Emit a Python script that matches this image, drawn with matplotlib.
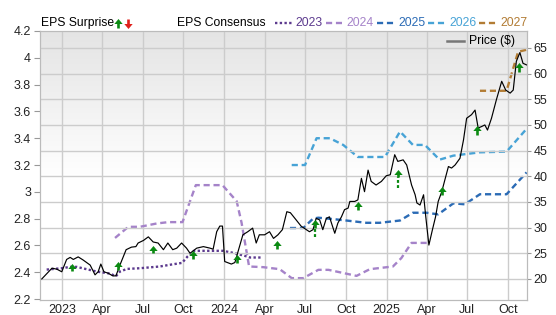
import numpy as np
import pandas as pd
import matplotlib
matplotlib.use('Agg')
import matplotlib.pyplot as plt
from matplotlib.lines import Line2D
from matplotlib.colors import LinearSegmentedColormap
from matplotlib.ticker import FuncFormatter

plt.rcParams['font.family'] = ['Liberation Sans', 'DejaVu Sans']

# ---- data ----
price_dates = ['2022-11-16', '2022-12-09', '2022-12-20', '2022-12-31', '2023-01-11', '2023-01-19',
               '2023-01-26', '2023-02-06', '2023-02-17', '2023-03-05', '2023-03-16', '2023-03-23',
               '2023-03-29', '2023-04-05', '2023-04-15', '2023-04-25', '2023-05-02', '2023-05-11',
               '2023-05-25', '2023-06-06', '2023-06-16', '2023-06-21', '2023-07-03', '2023-07-14',
               '2023-07-25', '2023-08-05', '2023-08-17', '2023-08-27', '2023-09-07', '2023-09-16',
               '2023-09-27', '2023-10-08', '2023-10-16', '2023-10-31', '2023-11-15', '2023-11-30',
               '2023-12-07', '2023-12-15', '2023-12-22', '2023-12-28', '2024-01-02', '2024-01-17',
               '2024-01-25', '2024-02-01', '2024-02-12', '2024-02-23', '2024-03-05', '2024-03-13',
               '2024-03-20', '2024-04-01', '2024-04-12', '2024-04-21', '2024-05-01', '2024-05-11',
               '2024-05-21', '2024-05-29', '2024-06-11', '2024-06-22', '2024-07-04', '2024-07-11',
               '2024-07-19', '2024-07-26', '2024-08-03', '2024-08-10', '2024-08-18', '2024-08-25',
               '2024-09-06', '2024-09-13', '2024-09-21', '2024-09-28', '2024-10-06', '2024-10-10',
               '2024-10-21', '2024-10-28', '2024-11-05', '2024-11-12', '2024-11-20', '2024-11-27',
               '2024-12-08', '2024-12-20', '2024-12-31', '2025-01-09', '2025-01-19', '2025-01-26',
               '2025-02-07', '2025-02-15', '2025-02-26', '2025-03-06', '2025-03-10', '2025-03-17',
               '2025-03-25', '2025-03-30', '2025-04-06', '2025-04-14', '2025-04-21', '2025-04-27',
               '2025-05-05', '2025-05-12', '2025-05-20', '2025-05-27', '2025-06-04', '2025-06-15',
               '2025-06-23', '2025-06-30', '2025-07-11', '2025-07-19', '2025-07-26', '2025-08-03',
               '2025-08-10', '2025-08-16', '2025-08-25', '2025-09-05', '2025-09-17', '2025-09-26',
               '2025-10-06', '2025-10-13', '2025-10-20', '2025-10-28', '2025-11-04', '2025-11-12']
price_vals = [20.0, 22.1, 21.9, 21.4, 23.8, 24.2, 23.8, 24.3, 23.7, 22.7, 20.8, 21.4,
              22.9, 21.4, 21.1, 20.6, 20.6, 22.7, 25.7, 26.2, 26.3, 27.0, 27.5, 28.2,
              27.2, 27.0, 25.7, 27.0, 25.7, 26.0, 27.0, 26.0, 25.0, 26.0, 26.3, 26.0,
              25.8, 29.2, 30.3, 30.3, 23.4, 22.9, 23.2, 25.3, 28.6, 29.2, 29.9, 27.0,
              28.6, 28.6, 29.2, 27.9, 28.6, 29.6, 33.1, 32.9, 31.5, 30.3, 29.6, 29.2,
              29.6, 31.8, 31.5, 29.6, 31.8, 32.1, 28.9, 30.9, 32.1, 33.5, 33.8, 35.1,
              35.1, 35.4, 39.6, 37.0, 41.2, 39.0, 38.3, 39.0, 40.1, 40.3, 44.2, 42.9,
              43.2, 42.2, 38.3, 36.4, 34.8, 34.4, 36.4, 32.1, 26.6, 29.6, 32.1, 35.1,
              37.0, 39.3, 41.9, 41.6, 42.2, 43.5, 47.1, 51.3, 52.0, 52.9, 49.4, 49.7,
              50.0, 49.0, 51.3, 54.9, 58.5, 56.8, 56.2, 56.8, 62.4, 64.1, 62.0, 61.7]

eps_2023_dates = ['2022-11-27', '2022-12-31', '2023-01-19', '2023-02-03', '2023-03-20', '2023-04-19',
                  '2023-05-02', '2023-05-11', '2023-05-27', '2023-06-25', '2023-08-09', '2023-09-01',
                  '2023-09-28', '2023-10-11', '2023-10-25', '2023-12-29', '2024-01-21', '2024-02-21',
                  '2024-02-28', '2024-03-28']
eps_2023 = [2.42, 2.43, 2.44, 2.44, 2.405, 2.39, 2.37, 2.405, 2.425, 2.43, 2.443, 2.456,
            2.47, 2.52, 2.56, 2.56, 2.545, 2.518, 2.51, 2.51]

eps_2024_dates = ['2023-04-30', '2023-05-30', '2023-06-25', '2023-08-02', '2023-08-28', '2023-09-29',
                  '2023-10-29', '2023-12-28', '2024-01-29', '2024-02-09', '2024-02-26', '2024-03-29',
                  '2024-05-05', '2024-06-01', '2024-06-27', '2024-07-31', '2024-08-23', '2024-10-25',
                  '2024-11-24', '2025-01-15', '2025-02-03', '2025-02-26', '2025-04-01']
eps_2024 = [2.656, 2.739, 2.739, 2.764, 2.774, 2.774, 3.05, 3.05, 2.93, 2.77, 2.443, 2.438,
            2.423, 2.356, 2.356, 2.418, 2.418, 2.373, 2.423, 2.443, 2.506, 2.619, 2.619]

eps_2025_dates = ['2024-05-28', '2024-06-27', '2024-07-19', '2024-07-31', '2024-09-10', '2024-10-02',
                  '2024-11-16', '2024-12-16', '2025-01-31', '2025-03-01', '2025-04-01', '2025-04-27',
                  '2025-05-31', '2025-06-26', '2025-07-30', '2025-09-28', '2025-11-12']
eps_2025 = [2.73, 2.73, 2.80, 2.807, 2.794, 2.786, 2.769, 2.769, 2.786, 2.844, 2.844, 2.832,
            2.914, 2.907, 2.982, 2.982, 3.145]

eps_2026_dates = ['2024-06-01', '2024-07-01', '2024-07-27', '2024-08-26', '2024-09-25', '2024-10-28',
                  '2024-12-28', '2025-01-31', '2025-03-01', '2025-03-28', '2025-04-30', '2025-05-31',
                  '2025-07-30', '2025-09-28', '2025-11-12']
eps_2026 = [3.20, 3.20, 3.40, 3.40, 3.35, 3.26, 3.26, 3.45, 3.35, 3.35, 3.24, 3.27, 3.295, 3.30, 3.47]

eps_2027_dates = ['2025-07-30', '2025-09-28', '2025-10-24', '2025-11-12']
eps_2027 = [3.754, 3.754, 4.045, 4.06]

# surprise arrows (price scale): tip, base of solid arrow, lower end of dashed tail
surprise_dates = ['2023-01-22', '2023-05-07', '2023-07-24', '2023-10-23', '2024-01-29', '2024-04-29',
                  '2024-07-23', '2024-10-28', '2025-01-27', '2025-05-05', '2025-07-23', '2025-10-27']
surprise_tip = [23.1, 23.4, 26.6, 25.5, 24.7, 27.5, 31.6, 35.1, 41.4, 38.1, 49.8, 62.1]
surprise_base = [21.6, 21.8, 25.0, 23.8, 23.1, 25.8, 30.0, 33.5, 39.8, 36.4, 48.1, 60.4]
surprise_tail = [21.6, 21.8, 25.0, 23.8, 23.1, 25.8, 28.1, 33.5, 37.7, 36.4, 48.1, 60.4]

years = ['2023', '2024', '2025', '2026', '2027']
year_colors = ['#5c3a8e', '#a583c9', '#2b6bb5', '#47a3d6', '#b27c34']
green = '#0b8a12'
red = '#e0201b'

W, H = 556, 315
fig = plt.figure(figsize=(W / 100, H / 100), dpi=100)
rect = [40 / W, 1 - 300 / H, (527 - 40) / W, (300 - 31) / H]

# gradient background
bg = fig.add_axes(rect, zorder=0)
cmap = LinearSegmentedColormap.from_list('bg', [(0, '#e4e4e4'), (0.55, '#ffffff'), (1, '#ffffff')])
bg.imshow(np.linspace(0, 1, 256).reshape(-1, 1), cmap=cmap, aspect='auto', extent=[0, 1, 0, 1])
bg.axis('off')

ax1 = fig.add_axes(rect, zorder=1)
ax1.patch.set_visible(False)
ax2 = ax1.twinx()

td = pd.to_datetime
series = [(eps_2023_dates, eps_2023), (eps_2024_dates, eps_2024), (eps_2025_dates, eps_2025),
          (eps_2026_dates, eps_2026), (eps_2027_dates, eps_2027)]
for i, (d, v) in enumerate(series):
    dash = (1, 1) if i == 0 else (2.6, 1.6)
    ax1.plot(td(d), v, color=year_colors[i], lw=1.7, dashes=dash, solid_capstyle='butt')

ax2.plot(td(price_dates), price_vals, color='black', lw=0.85)

# arrow head: flat triangle, width = ms, height = 0.6 * ms
head = [(-1, -0.6), (1, -0.6), (0, 0.6), (-1, -0.6)]
down_head = [(-1, 0.6), (1, 0.6), (0, -0.6), (-1, 0.6)]
ms = 6
head_h = 0.6 * ms / 72 * 100 / 5.133   # head height in price units

for d, tip, base, tail in zip(td(surprise_dates), surprise_tip, surprise_base, surprise_tail):
    if tail < base:
        ax2.plot([d, d], [tail, base], color=green, lw=1.6, dashes=(1.3, 1.0))
    ax2.plot([d, d], [base, tip - head_h * 0.8], color=green, lw=1.9, solid_capstyle='butt')
    ax2.plot(d, tip - head_h / 2, marker=head, ms=ms, color=green, mec='none')

ax1.set_xlim(td('2022-11-12'), td('2025-11-13'))
ax1.set_ylim(2.193, 4.2)
ax2.set_ylim(15.9, 68.3)

qticks = pd.date_range('2023-01-01', '2025-10-01', freq='QS')
ax1.set_xticks(qticks)
ax1.set_xticklabels([str(t.year) if t.month == 1 else t.strftime('%b') for t in qticks])
ax1.set_yticks(np.arange(2.2, 4.21, 0.2))
ax1.yaxis.set_major_formatter(FuncFormatter(lambda v, p: f'{round(v, 1):g}'))
ax2.set_yticks(range(20, 66, 5))

ax1.grid(axis='x', color='#cccccc', lw=1)
ax2.grid(axis='y', color='#cccccc', lw=1)

for a in (ax1, ax2):
    for s in a.spines.values():
        s.set_color('#bbbbbb')
ax1.tick_params(axis='y', length=4, color='#999999', labelsize=9, labelcolor='#222222', pad=2.5)
ax1.tick_params(axis='x', length=0, labelsize=9, labelcolor='#222222', pad=3)
ax2.tick_params(axis='y', length=3, color='#999999', labelsize=9, labelcolor='#222222', pad=1.5)


def fx(x):
    return x / W


def fy(y):
    return 1 - y / H


# header legend
fs = 8.7
fig.text(fx(40.7), fy(23), 'EPS Surprise', fontsize=fs, va='center', color='black')
# green up arrow
fig.add_artist(Line2D([fx(118), fx(118)], [fy(27.5), fy(21)], transform=fig.transFigure,
                      color=green, lw=1.9, solid_capstyle='butt'))
fig.add_artist(Line2D([fx(118)], [fy(20.5)], transform=fig.transFigure, marker=head, ms=ms,
                      color=green, mec='none', ls='none'))
# red down arrow
fig.add_artist(Line2D([fx(127.5), fx(127.5)], [fy(18.5), fy(25)], transform=fig.transFigure,
                      color=red, lw=1.9, solid_capstyle='butt'))
fig.add_artist(Line2D([fx(127.5)], [fy(25.5)], transform=fig.transFigure, marker=down_head, ms=ms,
                      color=red, mec='none', ls='none'))
fig.text(fx(177), fy(23), 'EPS Consensus', fontsize=fs, va='center', color='black')

sample_x = [(275, 292.7), (326, 342), (376.7, 395), (428, 446), (479, 496.7)]
label_x = [295, 346.7, 398, 449, 500]
for i, yr in enumerate(years):
    x0, x1 = sample_x[i]
    dash = (1, 1) if i == 0 else (2.6, 1.6)
    fig.add_artist(Line2D([fx(x0), fx(x1)], [fy(23), fy(23)], transform=fig.transFigure,
                          color=year_colors[i], lw=1.7, dashes=dash))
    fig.text(fx(label_x[i]), fy(23), yr, fontsize=fs, va='center', color=year_colors[i])

# price legend inside plot
fig.add_artist(Line2D([fx(446.7), fx(464)], [fy(41), fy(41)], transform=fig.transFigure,
                      color='#777777', lw=1.8, zorder=5))
fig.text(fx(469), fy(41), 'Price ($)', fontsize=fs, va='center', color='black', zorder=5)

fig.savefig('out.png', dpi=100)
